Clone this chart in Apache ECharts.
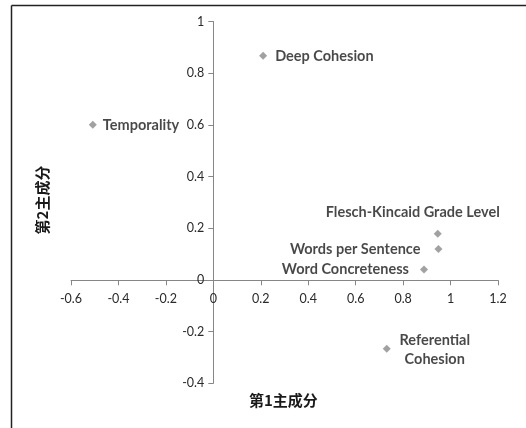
<!DOCTYPE html>
<html>
<head>
<meta charset="utf-8">
<script src="https://cdn.jsdelivr.net/npm/echarts@6/dist/echarts.min.js"></script>
<style>html,body{margin:0;padding:0;background:#fff}#c{width:526px;height:428px}</style>
</head>
<body>
<div id="c"></div>
<script>
var names = ['Deep Cohesion','Temporality','Flesch-Kincaid Grade Level','Words per Sentence','Word Concreteness','Referential\nCohesion'];
var pc1 = [0.21, -0.508, 0.946, 0.949, 0.888, 0.731];
var pc2 = [0.867, 0.60, 0.179, 0.12, 0.04, -0.266];
var xTitle = '第1主成分';
var yTitle = '第2主成分';

var labelCfg = [
  {position:'right', distance:8},
  {position:'right', distance:6},
  {position:'top', distance:10, offset:[-25,0]},
  {position:'left', distance:14},
  {position:'left', distance:11},
  {position:'inside', offset:[48,1], align:'center', lineHeight:18.6}
];
var font = 'Lato, "Noto Sans", sans-serif';
var data = names.map(function(n,i){
  var lc = labelCfg[i];
  var label = Object.assign({show:true, formatter:n}, lc);
  return {name:n, value:[pc1[i], pc2[i]], label:label};
});

var chart = echarts.init(document.getElementById('c'));
chart.setOption({
  backgroundColor:'#fff',
  animation:false,
  grid:{left:71, right:28, top:21.5, bottom:44.7},
  xAxis:{type:'value', min:-0.6, max:1.2, interval:0.2, position:'bottom', offset:-103,
    axisLine:{onZero:false, lineStyle:{color:'#868686', width:1}},
    axisTick:{show:true, length:5, lineStyle:{color:'#868686'}},
    axisLabel:{color:'#2a2a2a', fontSize:12.5, fontFamily:font, margin:12,
      formatter:function(v){return +v.toFixed(1)+'';}},
    splitLine:{show:false}},
  yAxis:{type:'value', min:-0.4, max:1, interval:0.2, position:'left', offset:-142.3,
    axisLine:{onZero:false, lineStyle:{color:'#868686', width:1}},
    axisTick:{show:true, length:5, lineStyle:{color:'#868686'}},
    axisLabel:{color:'#2a2a2a', fontSize:12.5, fontFamily:font, margin:9,
      formatter:function(v){return +v.toFixed(1)+'';}},
    splitLine:{show:false}},
  series:[{type:'scatter', symbol:'diamond', symbolSize:8,
    itemStyle:{color:'#8a8a8a'},
    label:{color:'#1a1a1a', fontWeight:'bold', fontSize:14.5, fontFamily:font},
    data:data}],
  graphic:[
    {type:'line', shape:{x1:11.5,y1:5.5,x2:526,y2:5.5}, style:{stroke:'#222', lineWidth:1.5}, silent:true},
    {type:'line', shape:{x1:11.5,y1:5.5,x2:11.5,y2:428}, style:{stroke:'#222', lineWidth:1.5}, silent:true},
    {type:'text', left:249, top:393, style:{text:xTitle, font:'bold 15px "Noto Sans CJK SC", sans-serif', fill:'#1a1a1a'}},
    {type:'text', x:42, y:200, rotation:Math.PI/2, style:{text:yTitle, align:'center', verticalAlign:'middle', font:'bold 15px "Noto Sans CJK SC", sans-serif', fill:'#1a1a1a'}}
  ]
});
</script>
</body>
</html>
